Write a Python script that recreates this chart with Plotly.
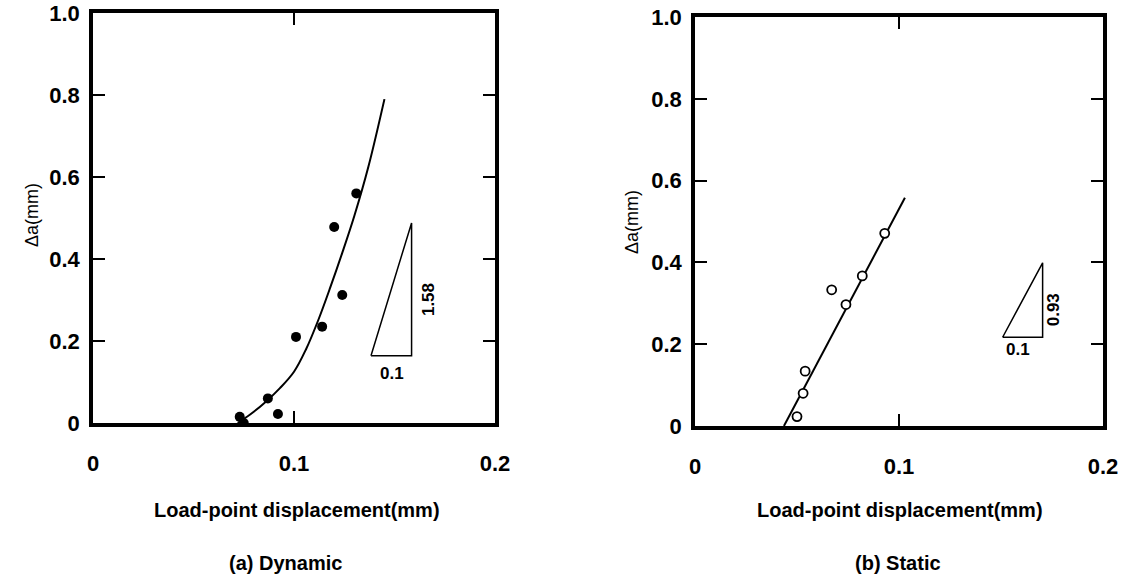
import plotly.graph_objects as go

# ---------------- data ----------------
# (a) Dynamic
dyn_x = [0.073, 0.075, 0.087, 0.092, 0.101, 0.114, 0.120, 0.124, 0.131]
dyn_y = [0.015, 0.000, 0.060, 0.022, 0.210, 0.235, 0.478, 0.312, 0.560]
dyn_fit_x = [0.072, 0.078, 0.086, 0.093, 0.100, 0.106, 0.112, 0.118, 0.124, 0.130, 0.137, 0.145]
dyn_fit_y = [0.000, 0.020, 0.052, 0.085, 0.125, 0.180, 0.250, 0.330, 0.415, 0.505, 0.625, 0.790]
dyn_tri_x = [0.1383, 0.1585, 0.1585, 0.1383]
dyn_tri_y = [0.164, 0.164, 0.488, 0.164]

# (b) Static
sta_x = [0.050, 0.053, 0.054, 0.067, 0.074, 0.082, 0.093]
sta_y = [0.023, 0.080, 0.134, 0.333, 0.297, 0.367, 0.471]
sta_fit_x = [0.0436, 0.1029]
sta_fit_y = [0.000, 0.558]
sta_tri_x = [0.1508, 0.1704, 0.1704, 0.1508]
sta_tri_y = [0.217, 0.217, 0.399, 0.217]

x_ticks = [0, 0.1, 0.2]
x_ticktext = ["0", "0.1", "0.2"]
y_ticks = [0, 0.2, 0.4, 0.6, 0.8, 1.0]
y_ticktext = ["0", "0.2", "0.4", "0.6", "0.8", "1.0"]

FONT = "Liberation Sans, Arial, sans-serif"

fig = go.Figure()

# left panel
fig.add_trace(go.Scatter(x=dyn_fit_x, y=dyn_fit_y, mode="lines",
                         line=dict(color="black", width=2, shape="spline"),
                         xaxis="x", yaxis="y", showlegend=False))
fig.add_trace(go.Scatter(x=dyn_x, y=dyn_y, mode="markers",
                         marker=dict(color="black", size=10),
                         xaxis="x", yaxis="y", showlegend=False))
fig.add_trace(go.Scatter(x=dyn_tri_x, y=dyn_tri_y, mode="lines",
                         line=dict(color="black", width=1.5),
                         xaxis="x", yaxis="y", showlegend=False))

# right panel
fig.add_trace(go.Scatter(x=sta_fit_x, y=sta_fit_y, mode="lines",
                         line=dict(color="black", width=2),
                         xaxis="x2", yaxis="y2", showlegend=False))
fig.add_trace(go.Scatter(x=sta_x, y=sta_y, mode="markers",
                         marker=dict(color="white", size=9,
                                     line=dict(color="black", width=1.8)),
                         xaxis="x2", yaxis="y2", showlegend=False))
fig.add_trace(go.Scatter(x=sta_tri_x, y=sta_tri_y, mode="lines",
                         line=dict(color="black", width=1.5),
                         xaxis="x2", yaxis="y2", showlegend=False))

tickfont = dict(family=FONT, size=22, color="black", weight="bold")

def xaxis(domain, anchor):
    return dict(domain=domain, anchor=anchor, range=[0, 0.2],
                tickmode="array", tickvals=x_ticks, ticktext=x_ticktext,
                ticks="inside", ticklen=12, tickwidth=2, tickcolor="black",
                showline=True, linewidth=3.5, linecolor="black", mirror="ticks",
                showgrid=False, zeroline=False, tickfont=tickfont,
                ticklabelstandoff=18, automargin=False, fixedrange=True)

def yaxis(domain, anchor):
    return dict(domain=domain, anchor=anchor, range=[0, 1.0],
                tickmode="array", tickvals=y_ticks, ticktext=y_ticktext,
                ticks="inside", ticklen=12, tickwidth=2, tickcolor="black",
                showline=True, linewidth=3.5, linecolor="black", mirror="ticks",
                showgrid=False, zeroline=False, tickfont=tickfont,
                ticklabelstandoff=5, automargin=False, fixedrange=True)

W, H = 1122, 577
def px(x):
    return x / W
def py(y):
    return (H - y) / H

fig.update_layout(
    width=W, height=H,
    margin=dict(l=0, r=0, t=0, b=0, pad=0, autoexpand=False),
    paper_bgcolor="white", plot_bgcolor="white",
    xaxis=xaxis([px(93), px(495)], "y"),
    yaxis=yaxis([py(423), py(13)], "x"),
    xaxis2=xaxis([px(695), px(1103)], "y2"),
    yaxis2=yaxis([py(426), py(17)], "x2"),
)

lab = dict(family=FONT, size=20, color="black", weight="bold")
c = dict(xanchor="center", yanchor="middle", showarrow=False)
ann = [
    dict(text="Load-point displacement(mm)", x=px(297), y=py(510), xref="paper", yref="paper", font=lab, **c),
    dict(text="Load-point displacement(mm)", x=px(900), y=py(510), xref="paper", yref="paper", font=lab, **c),
    dict(text="(a) Dynamic", x=px(285), y=py(563), xref="paper", yref="paper", font=lab, **c),
    dict(text="(b) Static", x=px(898), y=py(563), xref="paper", yref="paper", font=lab, **c),
    dict(text="Δa(mm)", x=px(32), y=py(215), xref="paper", yref="paper", textangle=-90,
         font=dict(family=FONT, size=18, color="black"), **c),
    dict(text="Δa(mm)", x=px(632), y=py(222), xref="paper", yref="paper", textangle=-90,
         font=dict(family=FONT, size=18, color="black"), **c),
    # triangle labels
    dict(text="1.58", x=0.1667, y=0.30, xref="x", yref="y", textangle=-90,
         font=dict(family=FONT, size=17, color="black", weight="bold"), **c),
    dict(text="0.1", x=0.1486, y=0.121, xref="x", yref="y",
         font=dict(family=FONT, size=17, color="black", weight="bold"), **c),
    dict(text="0.93", x=0.1757, y=0.284, xref="x2", yref="y2", textangle=-90,
         font=dict(family=FONT, size=17, color="black", weight="bold"), **c),
    dict(text="0.1", x=0.1585, y=0.186, xref="x2", yref="y2",
         font=dict(family=FONT, size=17, color="black", weight="bold"), **c),
]
fig.update_layout(annotations=ann)

fig.write_html("out.html", config={"displayModeBar": False},
               post_script="document.body.style.margin='0';document.body.style.overflow='hidden';")
